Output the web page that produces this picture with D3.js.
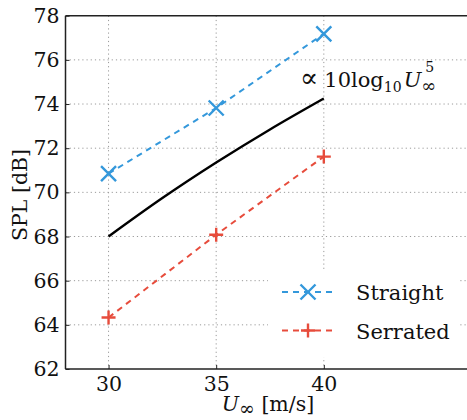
<!DOCTYPE html>
<html><head><meta charset="utf-8">
<script src="https://cdn.jsdelivr.net/npm/d3@7"></script>
<style>
html,body{margin:0;padding:0;background:#fff;}
svg{display:block;}
text{font-family:"DejaVu Serif",serif;fill:#111;}
</style></head>
<body>
<script>
const speeds = [30, 35, 40];
const straight = [70.85, 73.82, 77.18];
const serrated = [64.33, 68.08, 71.62];
const fitSpeeds = [30, 32.5, 35, 37.5, 40];
const fitValues = [68.0, 69.74, 71.35, 72.85, 74.25];
const xTicks = [30, 35, 40];
const yTicks = [62, 64, 66, 68, 70, 72, 74, 76, 78];
const seriesNames = ["Straight", "Serrated"];

const W = 467, H = 420;
const m = {left: 65.5, top: 15.7, right: 474.5, bottom: 369};
const svg = d3.select("body").append("svg").attr("width", W).attr("height", H);
const x = d3.scaleLinear().domain([28, 47]).range([m.left, m.right]);
const y = d3.scaleLinear().domain([62, 78]).range([m.bottom, m.top]);

const grid = svg.append("g").attr("stroke", "#9a9a9a").attr("stroke-width", 1).attr("stroke-dasharray", "1.2,3");
grid.selectAll(".v").data(xTicks).join("line")
  .attr("x1", d => x(d)).attr("x2", d => x(d)).attr("y1", m.top).attr("y2", m.bottom);
grid.selectAll(".h").data(yTicks.slice(1, -1)).join("line")
  .attr("y1", d => y(d)).attr("y2", d => y(d)).attr("x1", m.left).attr("x2", m.right);

// black fit curve
const line = d3.line().x(d => x(d[0])).y(d => y(d[1])).curve(d3.curveMonotoneX);
svg.append("path").datum(fitSpeeds.map((s, i) => [s, fitValues[i]]))
  .attr("d", line).attr("fill", "none").attr("stroke", "#000").attr("stroke-width", 2.4);

const colors = {Straight: "#3498db", Serrated: "#e74c3c"};
function markerPath(name, cx, cy) {
  if (name === "Straight") {
    const r = 7.5;
    return `M${cx - r},${cy - r}L${cx + r},${cy + r}M${cx - r},${cy + r}L${cx + r},${cy - r}`;
  } else {
    const r = 7;
    return `M${cx - r},${cy}L${cx + r},${cy}M${cx},${cy - r}L${cx},${cy + r}`;
  }
}
const series = [straight, serrated];
series.forEach((vals, si) => {
  const name = seriesNames[si];
  const pts = speeds.map((s, i) => [s, vals[i]]);
  svg.append("path").datum(pts).attr("d", d3.line().x(d => x(d[0])).y(d => y(d[1])))
    .attr("fill", "none").attr("stroke", colors[name]).attr("stroke-width", 2).attr("stroke-dasharray", "6,5");
  svg.append("g").selectAll("path").data(pts).join("path")
    .attr("d", d => markerPath(name, x(d[0]), y(d[1])))
    .attr("stroke", colors[name]).attr("stroke-width", 2.4).attr("fill", "none");
});

// legend
const lg = svg.append("g");
lg.append("rect").attr("x", 268).attr("y", 271).attr("width", 192).attr("height", 86).attr("fill", "#fff");
seriesNames.forEach((name, i) => {
  const cy = 292 + i * 38.5;
  lg.append("line").attr("x1", 282).attr("x2", 333).attr("y1", cy).attr("y2", cy)
    .attr("stroke", colors[name]).attr("stroke-width", 2).attr("stroke-dasharray", "6,5");
  lg.append("path").attr("d", markerPath(name, 308, cy)).attr("stroke", colors[name]).attr("stroke-width", 2.4);
  lg.append("text").attr("x", 356).attr("y", cy + 8).attr("font-size", 21).text(name);
});

// axes frame
const fr = svg.append("g").attr("stroke", "#222").attr("stroke-width", 1.5).attr("fill", "none");
fr.append("line").attr("x1", m.left).attr("x2", m.left).attr("y1", m.top).attr("y2", m.bottom);
fr.append("line").attr("x1", m.left).attr("x2", m.right).attr("y1", m.bottom).attr("y2", m.bottom);
fr.append("line").attr("x1", m.left).attr("x2", m.right).attr("y1", m.top).attr("y2", m.top);

const xAxis = svg.append("g").attr("transform", `translate(0,${m.bottom})`)
  .call(d3.axisBottom(x).tickValues(xTicks).tickSizeInner(-4).tickSizeOuter(0).tickPadding(7));
const yAxis = svg.append("g").attr("transform", `translate(${m.left},0)`)
  .call(d3.axisLeft(y).tickValues(yTicks).tickSizeInner(-4).tickSizeOuter(0).tickPadding(6));
[xAxis, yAxis].forEach(a => {
  a.select(".domain").remove();
  a.selectAll("line").attr("stroke", "#222");
  a.selectAll("text").attr("font-family", "DejaVu Serif").attr("font-size", 20.5).attr("fill", "#111");
});

// axis labels
const xl = svg.append("text").attr("x", 268).attr("y", 411).attr("text-anchor", "middle").attr("font-size", 20.5);
xl.append("tspan").attr("font-style", "italic").text("U");
xl.append("tspan").attr("dy", 4).attr("font-size", 19).text("∞");
xl.append("tspan").attr("dy", -4).text(" [m/s]");

svg.append("text").attr("transform", "translate(27,195) rotate(-90)").attr("text-anchor", "middle")
  .attr("font-size", 20.5).text("SPL [dB]");

// annotation
const an = svg.append("text").attr("x", 300).attr("y", 87).attr("font-size", 21);
an.append("tspan").attr("font-size", 27).text("∝");
an.append("tspan").attr("dx", 6).text("10log");
an.append("tspan").attr("dy", 5).attr("font-size", 14).text("10");
an.append("tspan").attr("dy", -5).attr("font-style", "italic").attr("dx", 2).text("U");
an.append("tspan").attr("dy", 5).attr("font-size", 18).text("∞");
an.append("tspan").attr("dy", -20).attr("dx", -11).attr("font-size", 14).text("5");
</script>
</body></html>
